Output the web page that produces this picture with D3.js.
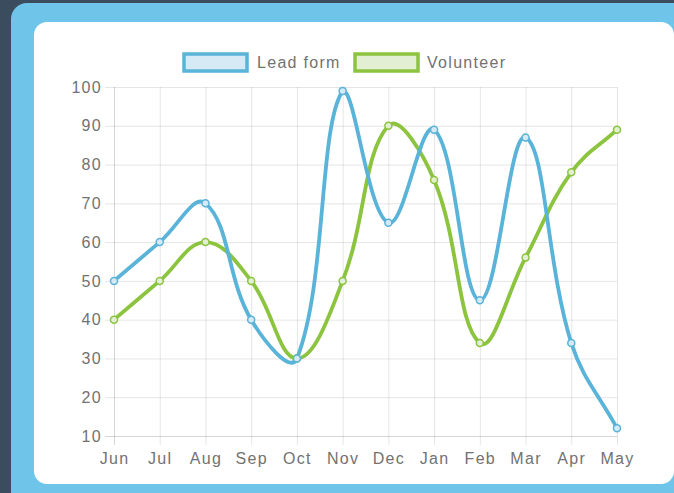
<!DOCTYPE html>
<html>
<head>
<meta charset="utf-8">
<script src="https://cdn.jsdelivr.net/npm/d3@7"></script>
<style>
  html, body { margin: 0; padding: 0; background: #3c4c5f; }
  svg { display: block; }
  text { font-family: "Liberation Sans", Arial, Helvetica, sans-serif; letter-spacing: 1.3px; }
</style>
</head>
<body>
<svg id="chart" width="674" height="493"></svg>
<script>
const months = ["Jun", "Jul", "Aug", "Sep", "Oct", "Nov", "Dec", "Jan", "Feb", "Mar", "Apr", "May"];
const leadForm = [50, 60, 70, 40, 30, 99, 65, 89, 45, 87, 34, 12];
const volunteer = [40, 50, 60, 50, 30, 50, 90, 76, 34, 56, 78, 89];
const yTicks = [10, 20, 30, 40, 50, 60, 70, 80, 90, 100];

const series = [
  { name: "Lead form", values: leadForm, stroke: "#5ab3d8", fill: "#d5eaf4" },
  { name: "Volunteer", values: volunteer, stroke: "#8cc43f", fill: "#e2efd2" }
];

const svg = d3.select("#chart");

// page frame: blue panel with white card inside
svg.append("rect").attr("x", 11).attr("y", 3).attr("width", 700).attr("height", 520)
  .attr("rx", 16).attr("fill", "#6fc5e9");
svg.append("rect").attr("x", 34).attr("y", 22).attr("width", 640).attr("height", 462)
  .attr("rx", 13).attr("fill", "#ffffff");

const area = { left: 114, right: 617, top: 87, bottom: 436 };

const x = d3.scalePoint().domain(months).range([area.left, area.right]);
const y = d3.scaleLinear().domain([10, 100]).range([area.bottom, area.top]);

const grid = "rgba(0,0,0,0.1)";
const labelColor = "#727272";

// horizontal grid + y axis
const yAxis = d3.axisLeft(y).tickValues(yTicks).tickSize(-(area.right - area.left))
  .tickPadding(14).tickFormat(d3.format("d"));
const gy = svg.append("g").attr("transform", `translate(${area.left},0)`).call(yAxis);
gy.select(".domain").remove();
gy.selectAll(".tick line").attr("stroke", grid).attr("x1", -9);
gy.selectAll(".tick text").attr("fill", labelColor).attr("font-size", 16).attr("x", -12);

// vertical grid + x axis
const xAxis = d3.axisBottom(x).tickSize(-(area.bottom - area.top)).tickPadding(14);
const gx = svg.append("g").attr("transform", `translate(0,${area.bottom})`).call(xAxis);
gx.select(".domain").remove();
gx.selectAll(".tick line").attr("stroke", grid).attr("y2", 9).attr("y1", -(area.bottom - area.top));
gx.selectAll(".tick text").attr("fill", labelColor).attr("font-size", 16).attr("y", 17);
// darker axis lines
gy.selectAll(".tick").filter(d => d === 10).select("line").attr("stroke", "rgba(0,0,0,0.16)");
gx.selectAll(".tick").filter((d, i) => i === 0).select("line").attr("stroke", "rgba(0,0,0,0.16)");

// distance-weighted cubic spline (tension 0.4), control points kept inside the plot area
function splinePath(values) {
  const pts = values.map((v, i) => [x(months[i]), y(v)]);
  const t = 0.4;
  const cps = pts.map((p, i) => {
    const prev = pts[Math.max(0, i - 1)];
    const next = pts[Math.min(pts.length - 1, i + 1)];
    const d01 = Math.hypot(p[0] - prev[0], p[1] - prev[1]);
    const d12 = Math.hypot(next[0] - p[0], next[1] - p[1]);
    let s01 = d01 / (d01 + d12), s12 = d12 / (d01 + d12);
    if (isNaN(s01)) s01 = 0;
    if (isNaN(s12)) s12 = 0;
    const fa = t * s01, fb = t * s12;
    const cap = c => [
      Math.max(area.left, Math.min(area.right, c[0])),
      Math.max(area.top, Math.min(area.bottom, c[1]))
    ];
    return {
      prev: cap([p[0] - fa * (next[0] - prev[0]), p[1] - fa * (next[1] - prev[1])]),
      next: cap([p[0] + fb * (next[0] - prev[0]), p[1] + fb * (next[1] - prev[1])])
    };
  });
  const path = d3.path();
  path.moveTo(pts[0][0], pts[0][1]);
  for (let i = 1; i < pts.length; i++) {
    const a = cps[i - 1].next, b = cps[i].prev;
    path.bezierCurveTo(a[0], a[1], b[0], b[1], pts[i][0], pts[i][1]);
  }
  return path.toString();
}

series.slice().reverse().forEach(s => {
  const g = svg.append("g");
  g.append("path").attr("d", splinePath(s.values))
    .attr("fill", "none").attr("stroke", s.stroke).attr("stroke-width", 3.8)
    .attr("stroke-linejoin", "round").attr("stroke-linecap", "round");
  g.selectAll("circle").data(s.values).join("circle")
    .attr("cx", (d, i) => x(months[i])).attr("cy", d => y(d)).attr("r", 3.5)
    .attr("fill", s.fill).attr("stroke", s.stroke).attr("stroke-width", 1.5);
});

// legend
const legend = [
  { x: 184, tx: 257 },
  { x: 355, tx: 427 }
];
series.forEach((s, i) => {
  const l = legend[i];
  svg.append("rect").attr("x", l.x).attr("y", 54).attr("width", 63).attr("height", 17)
    .attr("fill", s.fill).attr("stroke", s.stroke).attr("stroke-width", 3.5);
  svg.append("text").attr("x", l.tx).attr("y", 68).attr("fill", labelColor)
    .attr("font-size", 16).text(s.name);
});
</script>
</body>
</html>
